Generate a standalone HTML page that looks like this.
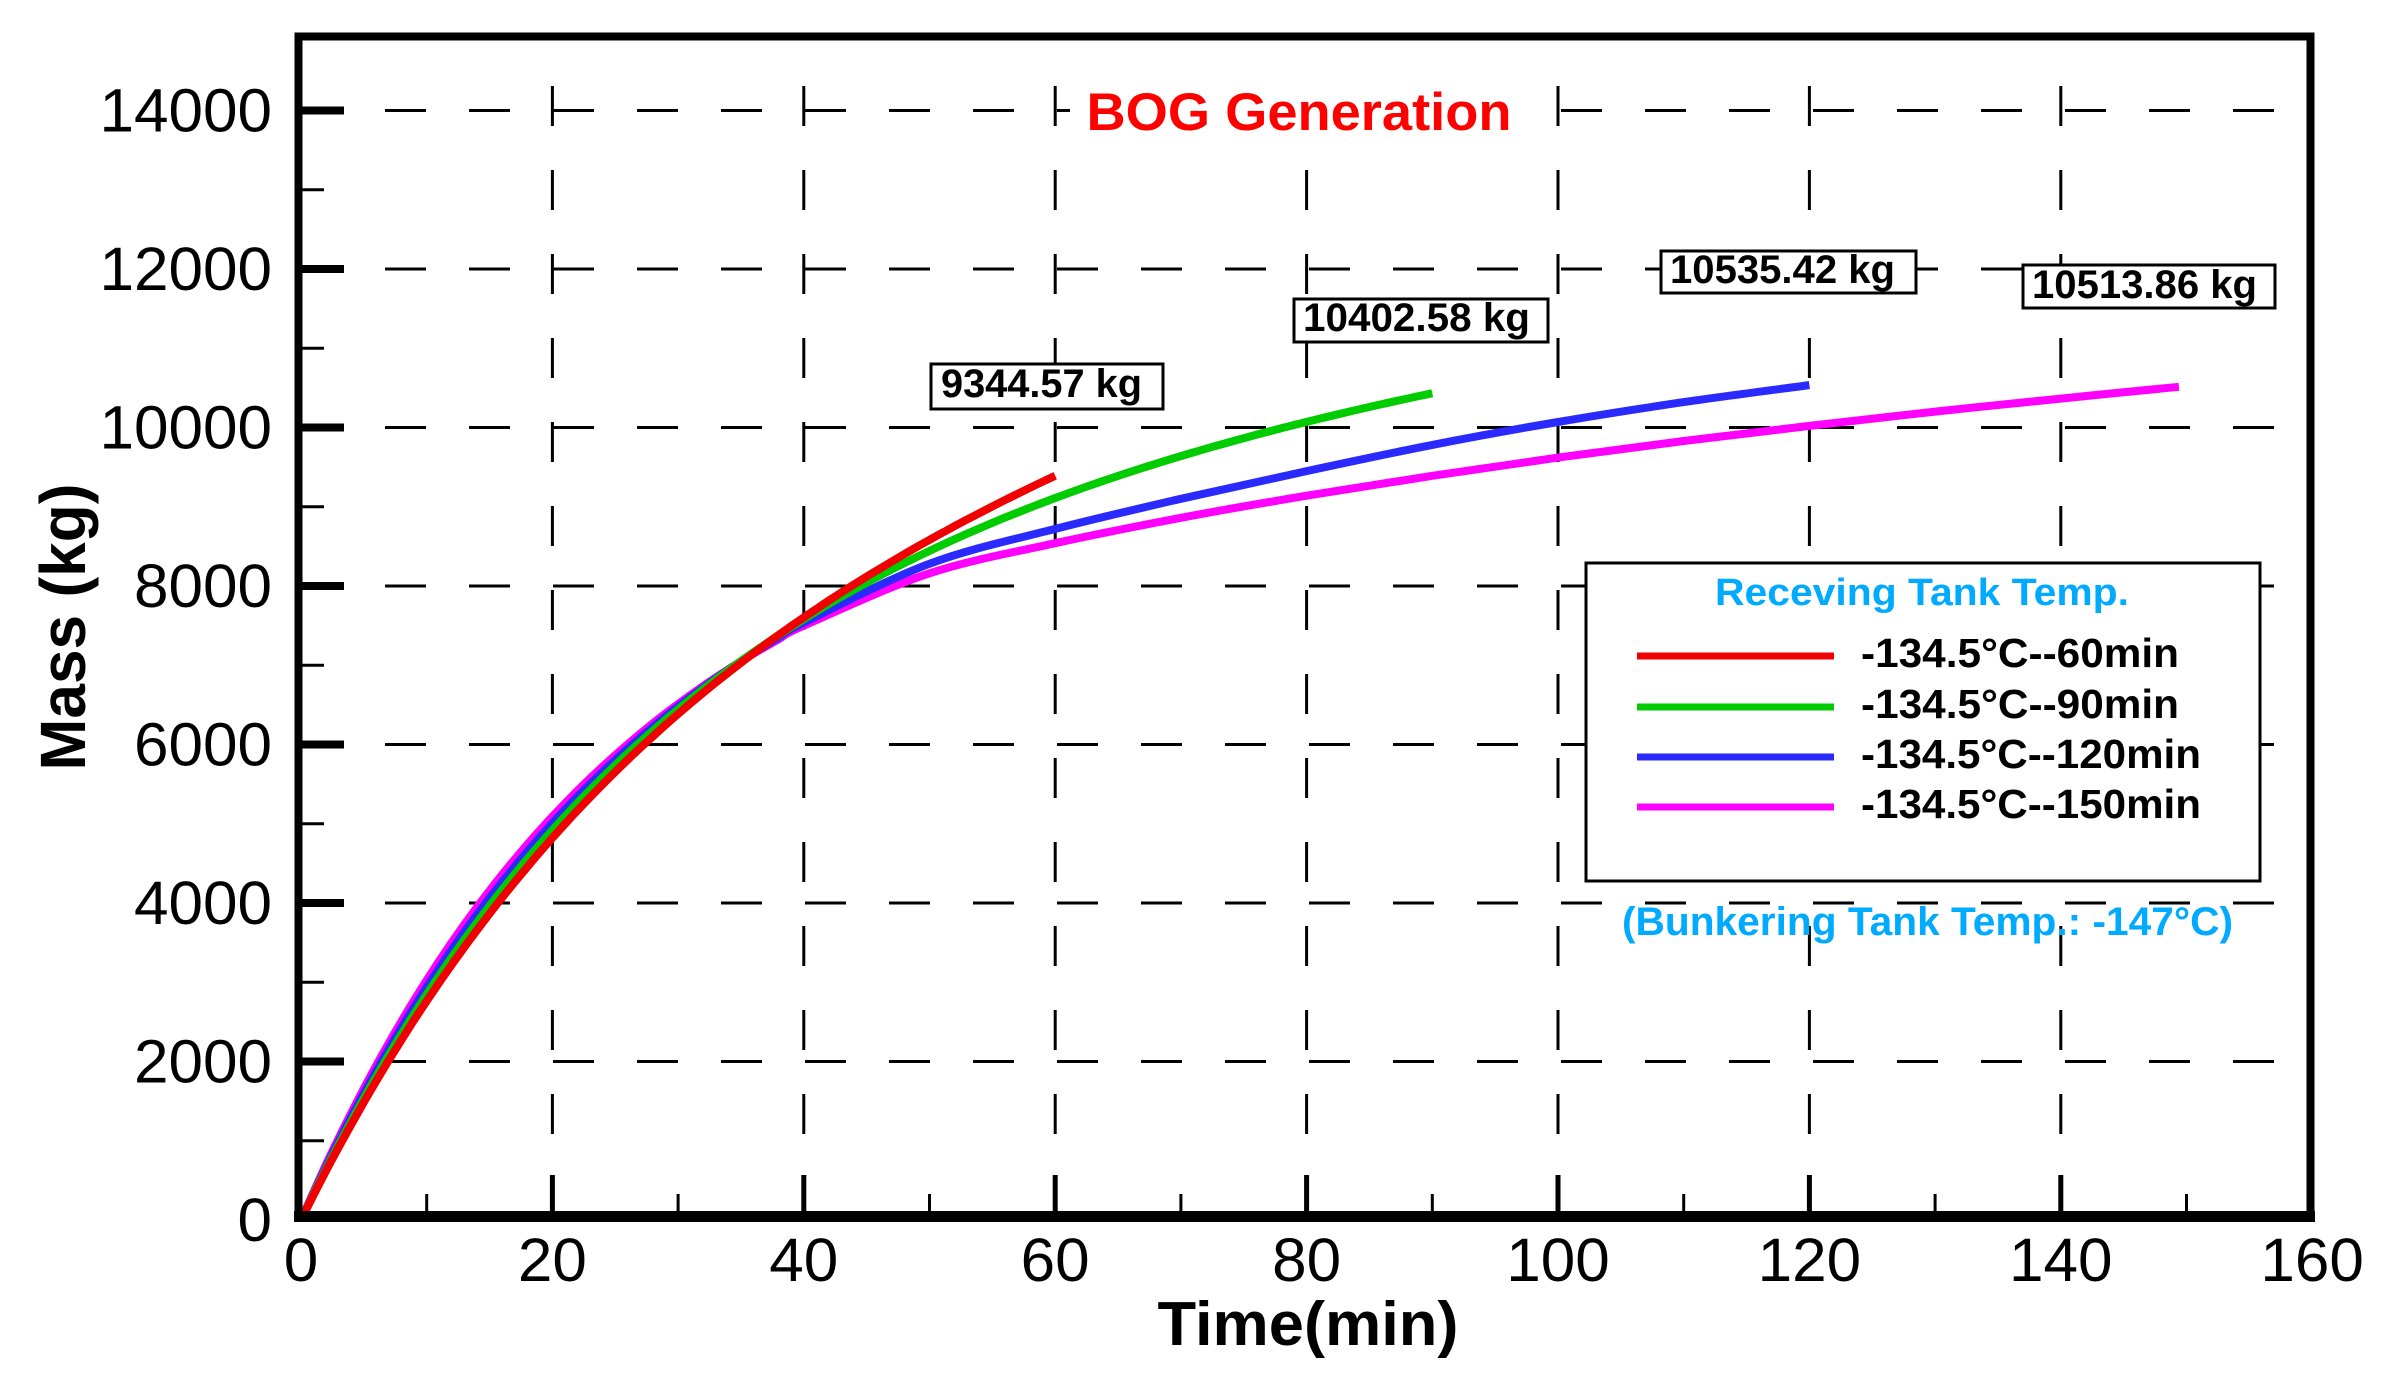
<!DOCTYPE html>
<html><head><meta charset="utf-8"><style>
html,body{margin:0;padding:0;background:#fff;}
svg{display:block;}
text{font-family:"Liberation Sans",Arial,sans-serif;}
</style></head><body>
<svg id="s" width="2390" height="1391" viewBox="0 0 2390 1391" xmlns="http://www.w3.org/2000/svg">
<rect width="2390" height="1391" fill="#fff"/>
<g id="grid" stroke="#000" stroke-width="3" fill="none"></g>
<g id="ticks" stroke="#000" fill="none"></g>
<g id="curves" fill="none" stroke-width="8" stroke-linecap="butt" stroke-linejoin="round"></g>
<rect x="298.5" y="36.5" width="2012" height="1180" fill="none" stroke="#000" stroke-width="8"/>
<line x1="294" y1="1216.5" x2="2315" y2="1216.5" stroke="#000" stroke-width="11"/>
<g id="labels" font-size="61" fill="#000"></g>
<rect x="1070" y="86" width="460" height="52" fill="#fff"/>
<text x="1299" y="130" font-size="53" font-weight="bold" fill="#ff0000" textLength="425" lengthAdjust="spacingAndGlyphs" text-anchor="middle">BOG Generation</text>
<text x="1308" y="1345" font-size="62" font-weight="bold" textLength="301" lengthAdjust="spacingAndGlyphs" text-anchor="middle">Time(min)</text>
<text transform="translate(85,627) rotate(-90)" font-size="64" font-weight="bold" textLength="287" lengthAdjust="spacingAndGlyphs" text-anchor="middle">Mass (kg)</text>
<g stroke="#000" stroke-width="3" fill="#fff">
<rect x="931" y="364" width="232" height="45"/>
<rect x="1294" y="299" width="254" height="43"/>
<rect x="1661" y="251" width="255" height="42"/>
<rect x="2023" y="265" width="252" height="43"/>
</g>
<g font-size="40" font-weight="bold" fill="#000">
<text x="941" y="397" textLength="201" lengthAdjust="spacingAndGlyphs">9344.57 kg</text>
<text x="1303" y="331" textLength="227" lengthAdjust="spacingAndGlyphs">10402.58 kg</text>
<text x="1670" y="283" textLength="225" lengthAdjust="spacingAndGlyphs">10535.42 kg</text>
<text x="2032" y="298" textLength="225" lengthAdjust="spacingAndGlyphs">10513.86 kg</text>
</g>
<rect x="1586" y="563" width="674" height="318" fill="#fff" stroke="#000" stroke-width="3"/>
<text x="1715" y="605" font-size="38" font-weight="bold" fill="#00aaff" textLength="414" lengthAdjust="spacingAndGlyphs">Receving Tank Temp.</text>
<g stroke-width="7">
<line x1="1637" y1="656" x2="1834" y2="656" stroke="#f00000"/>
<line x1="1637" y1="707" x2="1834" y2="707" stroke="#00cc00"/>
<line x1="1637" y1="757" x2="1834" y2="757" stroke="#2a2aff"/>
<line x1="1637" y1="807" x2="1834" y2="807" stroke="#ff00ff"/>
</g>
<g font-size="41" font-weight="bold" fill="#000">
<text x="1861" y="667" textLength="318" lengthAdjust="spacingAndGlyphs">-134.5°C--60min</text>
<text x="1861" y="718" textLength="318" lengthAdjust="spacingAndGlyphs">-134.5°C--90min</text>
<text x="1861" y="768" textLength="340" lengthAdjust="spacingAndGlyphs">-134.5°C--120min</text>
<text x="1861" y="818" textLength="340" lengthAdjust="spacingAndGlyphs">-134.5°C--150min</text>
</g>
<text x="1622" y="935" font-size="40" font-weight="bold" fill="#00aaff" textLength="611" lengthAdjust="spacingAndGlyphs">(Bunkering Tank Temp.: -147°C)</text>
</svg>
<script>
var NS="http://www.w3.org/2000/svg";
function X(t){return 301+t*12.57;}
function Y(m){return 1220-m*0.07925;}
function el(p,tag,a){var e=document.createElementNS(NS,tag);for(var k in a)e.setAttribute(k,a[k]);p.appendChild(e);return e;}
var g=document.getElementById('grid');
for(var m=2000;m<=14000;m+=2000){var y=Y(m);
 el(g,'path',{d:'M385 '+y+' H2290','stroke-dasharray':'41 43'});}
for(var t=20;t<=140;t+=20){var x=X(t);
 el(g,'path',{d:'M'+x+' 1134 V85','stroke-dasharray':'40 44'});}
var tk=document.getElementById('ticks');
for(var m=1000;m<=14000;m+=1000){var y=Y(m);
 if(m%2000==0) el(tk,'line',{x1:300,y1:y,x2:344,y2:y,'stroke-width':8});
 else el(tk,'line',{x1:300,y1:y,x2:324,y2:y,'stroke-width':3});}
for(var t=10;t<160;t+=10){var x=X(t);
 if(t%20==0) el(tk,'line',{x1:x,y1:1215,x2:x,y2:1175,'stroke-width':5});
 else el(tk,'line',{x1:x,y1:1215,x2:x,y2:1194,'stroke-width':3});}
var lb=document.getElementById('labels');
for(var m=0;m<=14000;m+=2000){var tx=el(lb,'text',{x:272,y:Y(m)+21,'text-anchor':'end',textLength:(String(m).length*34.5),lengthAdjust:'spacingAndGlyphs'});tx.textContent=m;}
for(var t=0;t<=160;t+=20){var tx=el(lb,'text',{x:X(t),y:1281,'text-anchor':'middle',textLength:(String(t).length*34.5),lengthAdjust:'spacingAndGlyphs'});tx.textContent=t;}
function catmull(p){var d='M'+p[0][0].toFixed(1)+' '+p[0][1].toFixed(1);
 for(var i=0;i<p.length-1;i++){var p0=p[Math.max(0,i-1)],p1=p[i],p2=p[i+1],p3=p[Math.min(p.length-1,i+2)];
  var c1=[p1[0]+(p2[0]-p0[0])/6,p1[1]+(p2[1]-p0[1])/6],c2=[p2[0]-(p3[0]-p1[0])/6,p2[1]-(p3[1]-p1[1])/6];
  d+=' C'+c1[0].toFixed(1)+' '+c1[1].toFixed(1)+' '+c2[0].toFixed(1)+' '+c2[1].toFixed(1)+' '+p2[0].toFixed(1)+' '+p2[1].toFixed(1);}
 return d;}
var S=[
 ['#ff00ff',8850,25,10.9,149.4,[[50,8160],[60,8540],[70,8860],[80,9140],[90,9390],[100,9620],[110,9830],[120,10020],[130,10200],[140,10365],[149.4,10514]]],
 ['#2a2aff',9036,27,13.9,120,[[50,8280],[60,8720],[70,9100],[80,9450],[90,9780],[100,10070],[110,10320],[120,10535]]],
 ['#00cc00',9095,29,19.4,90,null],
 ['#f00000',7818,28,41.5,60,null]
];
var cg=document.getElementById('curves');
S.forEach(function(s){var A=s[1],tau=s[2],B=s[3],T=s[4],tail=s[5];var pts=[];
 var lim=tail?40:T;
 for(var t=0;t<=lim+0.001;t+=(tail?2:1)){var tt=Math.min(t,lim);pts.push([X(tt),Y(A*(1-Math.exp(-tt/tau))+B*tt)]);}
 if(tail) tail.forEach(function(q){pts.push([X(q[0]),Y(q[1])]);});
 el(cg,'path',{d:catmull(pts),stroke:s[0]});});
</script>
</body></html>
